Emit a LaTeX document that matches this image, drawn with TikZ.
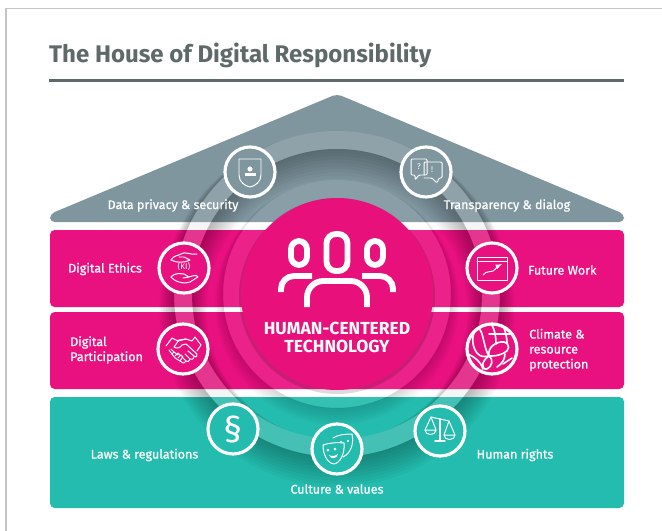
\documentclass[tikz,border=0pt]{standalone}
\usepackage{fontspec}
\setmainfont{Fira Sans}
\newfontfamily\midfont[FakeBold=0.8]{Fira Sans}
\usetikzlibrary{arrows}
\tikzset{>=latex}
\definecolor{inkgrey}{HTML}{5F6969}
\definecolor{framegrey}{HTML}{C4C4C4}
\definecolor{roofgrey}{HTML}{7F969F}
\definecolor{pinkband}{HTML}{E9107F}
\definecolor{pinkdisc}{HTML}{E8117B}
\definecolor{tealband}{HTML}{23BCAE}
\tikzset{
  badge/.style={circle,fill=#1,draw=white,line width=2.7pt,minimum size=1.5cm,inner sep=0pt,text=white},
  glyph/.style={draw=white,line width=0.85pt,line cap=round,line join=round},
  boxtext/.style={text=white,font=\fontsize{10.7}{12.8}\selectfont\midfont,inner sep=0pt},
  tiny/.style={text=white,font=\fontsize{7}{7}\selectfont,inner sep=0pt}
}
\begin{document}
\begin{tikzpicture}[x=0.03cm,y=-0.03cm]
       \useasboundingbox (0,0) rectangle (662,531);
       % frame and heading
       \fill[white] (0,0) rectangle (662,531);
       \draw[framegrey,line width=1.3pt] (662,8.5) -- (6,8.5) -- (6,531);
       \node[anchor=base west,inner sep=0pt,text=inkgrey,font=\fontsize{20.5}{24}\selectfont\bfseries] (heading) at (49,62) {The House of Digital Responsibility};
       \fill[inkgrey] (49,78.5) rectangle (623.5,81.5);
       % the house
       \fill[roofgrey,rounded corners=4pt] (337,94) -- (624,214) -- (624,222) -- (50,222) -- (50,214) -- cycle;
       \fill[pinkband,rounded corners=4pt] (50,230) rectangle (624,307);
       \fill[pinkband,rounded corners=4pt] (50,312) rectangle (624,389);
       \fill[tealband,rounded corners=4pt] (50,397) rectangle (624,508);
       % soft shadows fall downwards
       \begin{scope}[even odd rule]
         \clip (0,0) rectangle (662,531) (337,294) circle [radius=163] (337,294) circle [radius=145] (337,294) circle [radius=114];
         \foreach \k in {0,...,9}
           \fill[black,opacity=0.03] (337,{295+1.6*\k}) circle [radius=145-1.6*\k] (337,{295+1.6*\k}) circle [radius=163+1.6*\k];
         \foreach \k in {0,...,6}
           \fill[black,opacity=0.025] (337,{295+1.3*\k}) circle [radius=114+1.3*\k];
       \end{scope}
       % rings round the centre
       \fill[black!18!white,opacity=0.2,even odd rule] (337,294) circle [radius=163] (337,294) circle [radius=145];
       \fill[white,opacity=0.08] (337,294) circle [radius=114];
       \fill[black,opacity=0.14] (337,296) circle [radius=98];
       \fill[pinkdisc] (337,294) circle [radius=96];
       % people
       \begin{scope}[draw=white,line width=5pt,line cap=round]
         \draw[rounded corners=8pt] (326.5,234) rectangle (347.5,271);
         \draw[rounded corners=7pt] (291,241) rectangle (307,265);
         \draw[rounded corners=7pt] (367,241) rectangle (383,265);
         \draw[rounded corners=14pt,line cap=butt] (307,307) -- (307,281) -- (367,281) -- (367,307);
         \draw[rounded corners=11pt,line cap=butt] (281,292) -- (281,276) -- (312,276);
         \draw[rounded corners=11pt,line cap=butt] (393,292) -- (393,276) -- (362,276);
       \end{scope}
       \node[align=center,text=white,inner sep=0pt,font=\fontsize{14.9}{14.8}\selectfont\bfseries] (hub) at (337,337.5) {HUMAN-CENTERED\\TECHNOLOGY};
       % badges
       \node[badge=roofgrey] (privacy) at (250,172) {};
       \node[badge=roofgrey] (dialog) at (426,172) {};
       \node[badge=pinkband] (ethics) at (184,268) {};
       \node[badge=pinkband] (work) at (492,268) {};
       \node[badge=pinkband] (participation) at (183,349) {};
       \node[badge=pinkband] (climate) at (492,349) {};
       \node[badge=tealband,font=\fontsize{31}{31}\selectfont] (laws) at (233,429) {\S};
       \node[badge=tealband] (culture) at (337,449) {};
       \node[badge=tealband] (rights) at (440,431) {};
       % texts
       \node[boxtext] (tprivacy) at (173,205.5) {Data privacy \& security};
       \node[boxtext] (tdialog) at (507,205.5) {Transparency \& dialog};
       \node[boxtext,anchor=west] (tethics) at (68,269) {Digital Ethics};
       \node[boxtext,anchor=west] (twork) at (528,270) {Future Work};
       \node[boxtext,anchor=west,align=left] (tparticipation) at (70,350) {Digital\\Participation};
       \node[boxtext,anchor=west,align=left] (tclimate) at (529,350) {Climate \&\\resource\\protection};
       \node[boxtext] (tlaws) at (144.5,455) {Laws \& regulations};
       \node[boxtext] (tculture) at (337,489) {Culture \& values};
       \node[boxtext] (trights) at (515,455) {Human rights};
       % shield
       \begin{scope}[shift={(privacy.center)}]
         \draw[glyph] (-11,-13) -- (11,-13) -- (11,3) .. controls (11,10) and (5,14) .. (0,15) .. controls (-5,14) and (-11,10) .. (-11,3) -- cycle;
         \fill[white] (0,-3) circle [radius=2.6];
         \fill[white] (-5.5,1) rectangle (5.5,4);
       \end{scope}
       % speech bubbles
       \begin{scope}[shift={(dialog.center)}]
         \draw[glyph,rounded corners=1pt] (-15,-13) -- (1,-13) -- (1,3) -- (-7,3) -- (-11,8) -- (-11,3) -- (-15,3) -- cycle;
         \draw[glyph,rounded corners=1pt] (-2,3) -- (-2,-10) -- (16,-10) -- (16,6) -- (13,6) -- (11,11) -- (6,6) -- (-2,6);
         \node[tiny] (ask) at (-7,-5) {?};
         \node[tiny] (tell) at (6,-2) {!};
       \end{scope}
       % hands and KI
       \begin{scope}[shift={(ethics.center)}]
         \draw[glyph] (-13,-8) .. controls (-10,-13) and (-6,-12) .. (-3,-14) .. controls (1,-17) and (5,-13) .. (13,-14);
         \draw[glyph] (-13,-8) .. controls (-7,-5) and (0,-5) .. (6,-8) -- (0,-11) -- (-5,-11);
         \draw[glyph] (-13,9) .. controls (-8,4) and (-4,6) .. (0,6) -- (5,9) -- (-1,10);
         \draw[glyph] (-13,9) .. controls (-8,15) and (2,16) .. (6,14) -- (14,9) .. controls (12,6) and (9,8) .. (5,9);
         \node[tiny] (ki) at (0,-1) {(KI)};
       \end{scope}
       % window with rising line
       \begin{scope}[shift={(work.center)}]
         \draw[glyph] (-15,-11) rectangle (15,12);
         \draw[glyph] (-15,-7) -- (15,-7);
         \draw[glyph,->] (-9,7) .. controls (-5,2) and (-2,5) .. (1,3) .. controls (4,1) and (6,-2) .. (10,-4);
       \end{scope}
       % handshake
       \begin{scope}[shift={(participation.center)}]
         \draw[glyph] (-17,-3) -- (-11,-11) -- (-5,-8) -- (3,-10) -- (9,-8) -- (12,-12) -- (18,-4) -- (14,2);
         \draw[glyph] (3,-10) -- (-4,-9) -- (-9,-2) .. controls (-6,0) and (-3,-1) .. (-1,-4) -- (3,-5) -- (14,5) .. controls (15,7) and (13,9) .. (11,7) -- (5,2);
         \draw[glyph] (11,7) .. controls (11,10) and (9,11) .. (7,10) -- (2,5);
         \draw[glyph] (7,10) .. controls (6,13) and (4,13) .. (3,12) -- (-1,8);
         \draw[glyph] (3,12) .. controls (1,15) and (-1,14) .. (-3,12) -- (-8,9) -- (-14,1);
         \draw[glyph] (-12,0) -- (-9,3) -- (-11,5) (-9,3) -- (-5,6) (-8,7) -- (-5,4) -- (-3,6) (-5,9) -- (-2,6) -- (0,8) (-3,12) -- (-1,9);
       \end{scope}
       % globe and butterfly
       \begin{scope}[shift={(climate.center)},glyph/.append style={line width=1.4pt}]
         \draw[glyph] (-3,7) .. controls (-8,0) and (-9,-19) .. (-13,-20) .. controls (-21,-19) and (-21,-3) .. (-15,4) .. controls (-12,8) and (-7,8) .. (-3,7);
         \draw[glyph] (-3,7) .. controls (-5,-2) and (5,-8) .. (12,-7) .. controls (19,-5) and (17,2) .. (12,4) .. controls (6,7) and (1,7) .. (-3,7);
         \draw[glyph] (-3,7) .. controls (2,10) and (0,18) .. (-5,20) .. controls (-11,21) and (-11,12) .. (-3,7);
         \draw[glyph] (-24,5) .. controls (-16,9) and (-12,12) .. (-9,20);
         \draw[glyph] (0,-24) .. controls (3,-18) and (4,-12) .. (4,-5);
         \draw[glyph] (12,-21) .. controls (14,-16) and (15,-10) .. (15,-6);
         \draw[glyph] (-3,-15) -- (21,-15);
         \draw[glyph] (5,18) .. controls (10,15) and (13,10) .. (13,5);
         \draw[glyph] (11,15) -- (20,9);
       \end{scope}
       % masks
       \begin{scope}[shift={(culture.center)}]
         \draw[glyph] (-4,-11) .. controls (0,-14) and (8,-15) .. (15,-15) .. controls (17,-5) and (14,4) .. (6,8);
         \fill[white] (4,-7) circle [radius=1.2] (11,-8) circle [radius=1.2];
         \draw[glyph,fill=tealband] (-14,-4) .. controls (-8,-6) and (0,-7) .. (7,-6) .. controls (8,5) and (3,14) .. (-3,15) .. controls (-10,14) and (-14,5) .. (-14,-4) -- cycle;
         \fill[white] (-9,1) circle [radius=1.5] (-2,0) circle [radius=1.5];
         \fill[white] (-8,6) .. controls (-5,8) and (-2,7) .. (1,5) .. controls (0,10) and (-6,11) .. (-8,6) -- cycle;
       \end{scope}
       % scales
       \begin{scope}[shift={(rights.center)}]
         \draw[glyph] (-9,-14) -- (9,-10);
         \draw[glyph,line width=1.2pt] (0,-12) -- (0,9);
         \draw[glyph,line width=1.2pt] (-5,10) -- (5,10);
         \draw[glyph] (-15,-1) -- (-9,-14) -- (-4,-1);
         \draw[glyph] (-15,-1) -- (-4,-1) .. controls (-4,5) and (-15,5) .. (-15,-1) -- cycle;
         \draw[glyph] (4,4) -- (9,-10) -- (15,4);
         \draw[glyph] (4,4) -- (15,4) .. controls (15,10) and (4,10) .. (4,4) -- cycle;
       \end{scope}
      \end{tikzpicture}
\end{document}
